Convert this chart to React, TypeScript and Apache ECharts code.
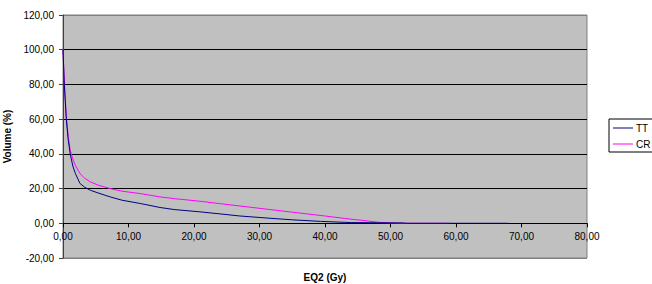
import React, { useEffect, useRef } from "react";
import * as echarts from "echarts";

const ttDose = [0, 0.2, 0.5, 0.8, 1.1, 1.5, 1.9, 2.6, 3.3, 4.2, 5.5, 7.2, 9, 11.8, 14.8, 17, 20.9, 24, 27, 31.6, 35, 39.3, 42, 44, 48, 52, 52.5, 60, 68];
const ttVolume = [100, 80, 60, 48, 40, 33, 28.6, 22.9, 20.8, 19, 17.3, 15.2, 13.3, 11.4, 9.1, 7.9, 6.6, 5.4, 4.2, 2.9, 2, 1.1, 0.7, 0.4, 0.3, 0.2, 0, 0, 0];

const crDose = [0, 0.2, 0.5, 0.8, 1.1, 1.5, 1.9, 2.6, 3.3, 4.2, 5.5, 7.2, 9, 11.8, 14.8, 17, 20.9, 24, 28.5, 31.6, 35, 40, 43, 46.8, 48.4, 50, 52, 59];
const crVolume = [100, 82, 62, 50, 42, 37, 33.3, 28.6, 26, 23.8, 21.8, 20, 18.5, 17.1, 15.2, 14.2, 12.7, 11.3, 9.3, 7.9, 6.4, 4.2, 2.8, 1.2, 0.5, 0.2, 0, 0];

const seriesNames = ["TT", "CR"];
const xAxisTitle = "EQ2 (Gy)";
const yAxisTitle = "Volume (%)";

const Y_MIN = -20;
const Y_MAX = 120;
const FONT = "'Liberation Sans', Arial, sans-serif";
const fmt = (v: number) => v.toFixed(2).replace(".", ",");

const GRID_TOP = 15;
const GRID_BOTTOM = 26;
const CHART_H = 284;

export default function App() {
  const ref = useRef<HTMLDivElement>(null);
  useEffect(() => {
    if (!ref.current) return;
    const chart = echarts.init(ref.current, undefined, { renderer: "svg" });
    const plotH = CHART_H - GRID_TOP - GRID_BOTTOM;
    // shift the x axis up from the grid bottom to where y = 0 lies
    const zeroOffset = -(plotH * (0 - Y_MIN)) / (Y_MAX - Y_MIN);
    chart.setOption({
      animation: false,
      textStyle: { fontFamily: FONT },
      grid: {
        left: 63,
        right: 65,
        top: GRID_TOP,
        bottom: GRID_BOTTOM,
        containLabel: false,
        outerBoundsMode: "none",
        show: true,
        backgroundColor: "#c0c0c0",
        borderColor: "#808080",
        borderWidth: 1,
      },
      legend: {
        orient: "vertical",
        left: 609,
        top: 119,
        data: seriesNames,
        icon: "rect",
        itemWidth: 20,
        itemHeight: 1,
        itemGap: 6,
        padding: [4, 12, 3, 4],
        borderColor: "#000",
        borderWidth: 1,
        borderRadius: 0,
        backgroundColor: "#fff",
        textStyle: { fontSize: 10, color: "#000", fontFamily: FONT, padding: [0, 0, 0, -2] },
      },
      xAxis: {
        type: "value",
        min: 0,
        max: 80,
        interval: 10,
        position: "bottom",
        offset: zeroOffset,
        name: xAxisTitle,
        nameLocation: "middle",
        nameGap: 49,
        nameTextStyle: { fontSize: 10, fontWeight: "bold", color: "#000", fontFamily: FONT },
        axisLine: { onZero: false, lineStyle: { color: "#000", width: 1 } },
        axisTick: { show: true, length: 4, lineStyle: { color: "#000" } },
        axisLabel: { fontSize: 10, color: "#000", margin: 8, formatter: fmt, fontFamily: FONT },
        splitLine: { show: false },
      },
      yAxis: {
        type: "value",
        min: Y_MIN,
        max: Y_MAX,
        interval: 20,
        name: yAxisTitle,
        nameLocation: "middle",
        nameRotate: 90,
        nameGap: 40,
        nameTextStyle: { fontSize: 10, fontWeight: "bold", color: "#000", fontFamily: FONT },
        axisLine: { show: true, onZero: false, lineStyle: { color: "#404040", width: 1 } },
        axisTick: { show: true, length: 4, lineStyle: { color: "#404040" } },
        axisLabel: { fontSize: 10, color: "#000", margin: 9, formatter: fmt, fontFamily: FONT },
        splitLine: {
          show: true,
          lineStyle: {
            color: ["#808080", "#000", "#000", "#000", "#000", "#000", "#000", "#808080"],
            width: 1,
          },
        },
      },
      series: [
        {
          name: seriesNames[0],
          type: "line",
          symbol: "none",
          data: ttDose.map((d, i) => [d, ttVolume[i]]),
          lineStyle: { color: "#000080", width: 1 },
          itemStyle: { color: "#000080" },
          z: 3,
        },
        {
          name: seriesNames[1],
          type: "line",
          symbol: "none",
          data: crDose.map((d, i) => [d, crVolume[i]]),
          lineStyle: { color: "#ff00ff", width: 1 },
          itemStyle: { color: "#ff00ff" },
          z: 2,
        },
      ],
    });
    return () => chart.dispose();
  }, []);
  return (
    <div
      ref={ref}
      style={{ position: "fixed", left: 0, top: 0, width: 652, height: 284, background: "#fff" }}
    />
  );
}
